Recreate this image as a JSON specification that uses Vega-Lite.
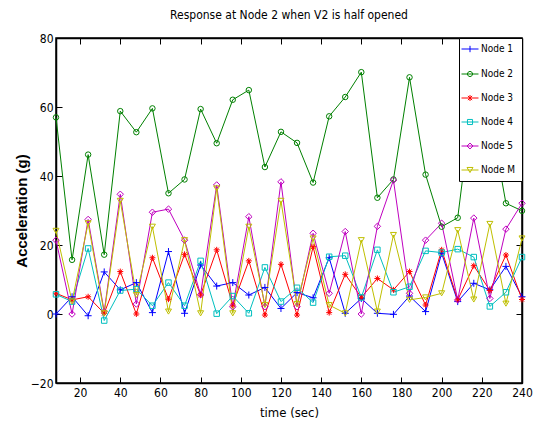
{
  "$schema": "https://vega.github.io/schema/vega-lite/v6.json",
  "width": 466,
  "height": 345,
  "autosize": {"type": "none"},
  "padding": {"left": 56, "top": 38, "right": 16, "bottom": 46},
  "background": "white",
  "title": {"text": "Response at Node 2 when V2 is half opened", "font": "Liberation Sans Narrow, DejaVu Sans Condensed, sans-serif", "fontSize": 12, "fontWeight": "normal", "color": "black", "offset": 10, "anchor": "middle"},
  "config": {
    "view": {"stroke": "black", "strokeWidth": 1.5},
    "axis": {"grid": false, "labelFlush": false, "domainColor": "black", "domainWidth": 1.5, "tickColor": "black", "tickWidth": 1, "labelColor": "black", "labelFont": "Liberation Sans Narrow, DejaVu Sans Condensed, sans-serif", "labelFontSize": 12, "titleColor": "black"}
  },
  "data": {"values": [
    {"t":8,"node":"Node 1","a":0},{"t":16,"node":"Node 1","a":5},{"t":24,"node":"Node 1","a":-0.5},{"t":32,"node":"Node 1","a":12.2},{"t":40,"node":"Node 1","a":7},{"t":48,"node":"Node 1","a":9.1},{"t":56,"node":"Node 1","a":0.4},{"t":64,"node":"Node 1","a":18.1},{"t":72,"node":"Node 1","a":0.2},{"t":80,"node":"Node 1","a":14.2},{"t":88,"node":"Node 1","a":8.1},{"t":96,"node":"Node 1","a":9.1},{"t":104,"node":"Node 1","a":5.5},{"t":112,"node":"Node 1","a":7.7},{"t":120,"node":"Node 1","a":1.6},{"t":128,"node":"Node 1","a":6.2},{"t":136,"node":"Node 1","a":4.7},{"t":144,"node":"Node 1","a":16.3},{"t":152,"node":"Node 1","a":0.2},{"t":160,"node":"Node 1","a":4.5},{"t":168,"node":"Node 1","a":0.2},{"t":176,"node":"Node 1","a":-0.1},{"t":184,"node":"Node 1","a":5.2},{"t":192,"node":"Node 1","a":0.7},{"t":200,"node":"Node 1","a":17.6},{"t":208,"node":"Node 1","a":3.6},{"t":216,"node":"Node 1","a":8.9},{"t":224,"node":"Node 1","a":7},{"t":232,"node":"Node 1","a":13.8},{"t":240,"node":"Node 1","a":5},
    {"t":8,"node":"Node 2","a":57},{"t":16,"node":"Node 2","a":15.7},{"t":24,"node":"Node 2","a":46.2},{"t":32,"node":"Node 2","a":17.2},{"t":40,"node":"Node 2","a":58.8},{"t":48,"node":"Node 2","a":52.7},{"t":56,"node":"Node 2","a":59.6},{"t":64,"node":"Node 2","a":35},{"t":72,"node":"Node 2","a":39},{"t":80,"node":"Node 2","a":59.4},{"t":88,"node":"Node 2","a":49.5},{"t":96,"node":"Node 2","a":62.1},{"t":104,"node":"Node 2","a":64.9},{"t":112,"node":"Node 2","a":42.6},{"t":120,"node":"Node 2","a":52.8},{"t":128,"node":"Node 2","a":49.6},{"t":136,"node":"Node 2","a":38.1},{"t":144,"node":"Node 2","a":57.3},{"t":152,"node":"Node 2","a":62.9},{"t":160,"node":"Node 2","a":70.1},{"t":168,"node":"Node 2","a":33.7},{"t":176,"node":"Node 2","a":39},{"t":184,"node":"Node 2","a":68.6},{"t":192,"node":"Node 2","a":40.4},{"t":200,"node":"Node 2","a":25.3},{"t":208,"node":"Node 2","a":27.9},{"t":216,"node":"Node 2","a":65.1},{"t":224,"node":"Node 2","a":58},{"t":232,"node":"Node 2","a":32.1},{"t":240,"node":"Node 2","a":29.9},
    {"t":8,"node":"Node 3","a":6},{"t":16,"node":"Node 3","a":4.1},{"t":24,"node":"Node 3","a":5},{"t":32,"node":"Node 3","a":0.2},{"t":40,"node":"Node 3","a":12.3},{"t":48,"node":"Node 3","a":0},{"t":56,"node":"Node 3","a":16.3},{"t":64,"node":"Node 3","a":4.3},{"t":72,"node":"Node 3","a":17.3},{"t":80,"node":"Node 3","a":5.5},{"t":88,"node":"Node 3","a":18.6},{"t":96,"node":"Node 3","a":2.6},{"t":104,"node":"Node 3","a":15.4},{"t":112,"node":"Node 3","a":-0.3},{"t":120,"node":"Node 3","a":14.4},{"t":128,"node":"Node 3","a":-0.3},{"t":136,"node":"Node 3","a":19.5},{"t":144,"node":"Node 3","a":0.4},{"t":152,"node":"Node 3","a":11.5},{"t":160,"node":"Node 3","a":4.8},{"t":168,"node":"Node 3","a":10.3},{"t":176,"node":"Node 3","a":7},{"t":184,"node":"Node 3","a":12.3},{"t":192,"node":"Node 3","a":2.6},{"t":200,"node":"Node 3","a":18.6},{"t":208,"node":"Node 3","a":4.1},{"t":216,"node":"Node 3","a":14},{"t":224,"node":"Node 3","a":6.8},{"t":232,"node":"Node 3","a":17.1},{"t":240,"node":"Node 3","a":4.2},
    {"t":8,"node":"Node 4","a":5.7},{"t":16,"node":"Node 4","a":3.6},{"t":24,"node":"Node 4","a":19},{"t":32,"node":"Node 4","a":-1.9},{"t":40,"node":"Node 4","a":6.8},{"t":48,"node":"Node 4","a":7.2},{"t":56,"node":"Node 4","a":2.4},{"t":64,"node":"Node 4","a":9.1},{"t":72,"node":"Node 4","a":2.4},{"t":80,"node":"Node 4","a":15.4},{"t":88,"node":"Node 4","a":0.1},{"t":96,"node":"Node 4","a":5.2},{"t":104,"node":"Node 4","a":0.2},{"t":112,"node":"Node 4","a":13.5},{"t":120,"node":"Node 4","a":3.6},{"t":128,"node":"Node 4","a":7.6},{"t":136,"node":"Node 4","a":3.3},{"t":144,"node":"Node 4","a":16.6},{"t":152,"node":"Node 4","a":16.9},{"t":160,"node":"Node 4","a":4.8},{"t":168,"node":"Node 4","a":18.6},{"t":176,"node":"Node 4","a":6.3},{"t":184,"node":"Node 4","a":7.9},{"t":192,"node":"Node 4","a":18.3},{"t":200,"node":"Node 4","a":17.8},{"t":208,"node":"Node 4","a":18.8},{"t":216,"node":"Node 4","a":16.5},{"t":224,"node":"Node 4","a":2.2},{"t":232,"node":"Node 4","a":6.3},{"t":240,"node":"Node 4","a":16.5},
    {"t":8,"node":"Node 5","a":21.4},{"t":16,"node":"Node 5","a":0},{"t":24,"node":"Node 5","a":27.4},{"t":32,"node":"Node 5","a":0.7},{"t":40,"node":"Node 5","a":34.7},{"t":48,"node":"Node 5","a":2.9},{"t":56,"node":"Node 5","a":29.5},{"t":64,"node":"Node 5","a":30.4},{"t":72,"node":"Node 5","a":21.4},{"t":80,"node":"Node 5","a":5.6},{"t":88,"node":"Node 5","a":37.4},{"t":96,"node":"Node 5","a":2.1},{"t":104,"node":"Node 5","a":28.2},{"t":112,"node":"Node 5","a":2.1},{"t":120,"node":"Node 5","a":38.3},{"t":128,"node":"Node 5","a":2.1},{"t":136,"node":"Node 5","a":23.4},{"t":144,"node":"Node 5","a":6},{"t":152,"node":"Node 5","a":23.9},{"t":160,"node":"Node 5","a":0},{"t":168,"node":"Node 5","a":25.4},{"t":176,"node":"Node 5","a":38.8},{"t":184,"node":"Node 5","a":6},{"t":192,"node":"Node 5","a":21.4},{"t":200,"node":"Node 5","a":26.3},{"t":208,"node":"Node 5","a":4.1},{"t":216,"node":"Node 5","a":27.8},{"t":224,"node":"Node 5","a":4.5},{"t":232,"node":"Node 5","a":24.6},{"t":240,"node":"Node 5","a":32.1},
    {"t":8,"node":"Node M","a":24.1},{"t":16,"node":"Node M","a":3.6},{"t":24,"node":"Node M","a":26.3},{"t":32,"node":"Node M","a":0.2},{"t":40,"node":"Node M","a":32.8},{"t":48,"node":"Node M","a":5.5},{"t":56,"node":"Node M","a":25.3},{"t":64,"node":"Node M","a":0.7},{"t":72,"node":"Node M","a":21.4},{"t":80,"node":"Node M","a":0.2},{"t":88,"node":"Node M","a":36.4},{"t":96,"node":"Node M","a":0.2},{"t":104,"node":"Node M","a":25.3},{"t":112,"node":"Node M","a":2.6},{"t":120,"node":"Node M","a":32.8},{"t":128,"node":"Node M","a":2.9},{"t":136,"node":"Node M","a":21.9},{"t":144,"node":"Node M","a":2.6},{"t":152,"node":"Node M","a":0.2},{"t":160,"node":"Node M","a":21.4},{"t":168,"node":"Node M","a":0.7},{"t":176,"node":"Node M","a":22.9},{"t":184,"node":"Node M","a":4.1},{"t":192,"node":"Node M","a":4.8},{"t":200,"node":"Node M","a":6},{"t":208,"node":"Node M","a":24.3},{"t":216,"node":"Node M","a":4.2},{"t":224,"node":"Node M","a":26.1},{"t":232,"node":"Node M","a":3},{"t":240,"node":"Node M","a":21.9}
  ]},
  "resolve": {"axis": {"x": "independent", "y": "independent"}},
  "layer": [
    {
      "mark": {"type": "line", "strokeWidth": 1},
      "encoding": {
        "x": {"field": "t", "type": "quantitative", "scale": {"domain": [8, 240], "nice": false, "zero": false},
              "axis": {"orient": "bottom", "values": [20,40,60,80,100,120,140,160,180,200,220,240], "tickSize": -6, "labelPadding": 10, "title": "time (sec)", "titleFont": "Liberation Sans Narrow, DejaVu Sans Condensed, sans-serif", "titleFontSize": 13, "titleFontWeight": "normal", "titlePadding": 8}},
        "y": {"field": "a", "type": "quantitative", "scale": {"domain": [-20, 80], "nice": false, "zero": false},
              "axis": {"orient": "left", "values": [-20,0,20,40,60,80], "tickSize": -6, "labelPadding": 9, "title": "Acceleration (g)", "titleFont": "Liberation Sans, Arial, sans-serif", "titleFontSize": 15, "titleFontWeight": "bold", "titlePadding": 1}},
        "stroke": {"field": "node", "type": "nominal", "scale": {"range": ["#0000FF","#008000","#FF0000","#00BFBF","#BF00BF","#BFBF00"]}, "legend": null},
        "order": {"field": "t", "type": "quantitative"}
      }
    },
    {
      "transform": [{"filter": {"field": "node", "equal": "Node 1"}}],
      "mark": {"type": "point", "shape": "M-1,0H1M0,-1V1", "filled": false, "fill": "transparent", "size": 49, "strokeWidth": 1, "opacity": 1},
      "encoding": {"x": {"field": "t", "type": "quantitative", "axis": null}, "y": {"field": "a", "type": "quantitative", "axis": null}, "stroke": {"field": "node", "type": "nominal", "legend": null}}
    },
    {
      "transform": [{"filter": {"field": "node", "equal": "Node 2"}}],
      "mark": {"type": "point", "shape": "circle", "filled": false, "fill": "transparent", "size": 30, "strokeWidth": 1, "opacity": 1},
      "encoding": {"x": {"field": "t", "type": "quantitative", "axis": null}, "y": {"field": "a", "type": "quantitative", "axis": null}, "stroke": {"field": "node", "type": "nominal", "legend": null}}
    },
    {
      "transform": [{"filter": {"field": "node", "equal": "Node 3"}}],
      "mark": {"type": "point", "shape": "M-1,0H1M0,-1V1M-0.7,-0.7L0.7,0.7M-0.7,0.7L0.7,-0.7", "filled": false, "fill": "transparent", "size": 36, "strokeWidth": 1, "opacity": 1},
      "encoding": {"x": {"field": "t", "type": "quantitative", "axis": null}, "y": {"field": "a", "type": "quantitative", "axis": null}, "stroke": {"field": "node", "type": "nominal", "legend": null}}
    },
    {
      "transform": [{"filter": {"field": "node", "equal": "Node 4"}}],
      "mark": {"type": "point", "shape": "square", "filled": false, "fill": "transparent", "size": 30, "strokeWidth": 1, "opacity": 1},
      "encoding": {"x": {"field": "t", "type": "quantitative", "axis": null}, "y": {"field": "a", "type": "quantitative", "axis": null}, "stroke": {"field": "node", "type": "nominal", "legend": null}}
    },
    {
      "transform": [{"filter": {"field": "node", "equal": "Node 5"}}],
      "mark": {"type": "point", "shape": "diamond", "filled": false, "fill": "transparent", "size": 42, "strokeWidth": 1, "opacity": 1},
      "encoding": {"x": {"field": "t", "type": "quantitative", "axis": null}, "y": {"field": "a", "type": "quantitative", "axis": null}, "stroke": {"field": "node", "type": "nominal", "legend": null}}
    },
    {
      "transform": [{"filter": {"field": "node", "equal": "Node M"}}],
      "mark": {"type": "point", "shape": "M-1,-0.85H1L0,0.85Z", "filled": false, "fill": "transparent", "size": 36, "strokeWidth": 1, "opacity": 1},
      "encoding": {"x": {"field": "t", "type": "quantitative", "axis": null}, "y": {"field": "a", "type": "quantitative", "axis": null}, "stroke": {"field": "node", "type": "nominal", "legend": null}}
    },
    {
      "mark": {"type": "point", "filled": false, "strokeWidth": 1, "opacity": 0},
      "encoding": {
        "x": {"field": "t", "type": "quantitative", "axis": {"orient": "top", "values": [20,40,60,80,100,120,140,160,180,200,220,240], "tickSize": -6, "labels": false, "title": null}},
        "y": {"field": "a", "type": "quantitative", "axis": {"orient": "right", "values": [-20,0,20,40,60,80], "tickSize": -6, "labels": false, "title": null}},
        "color": {"field": "node", "type": "nominal",
          "scale": {"domain": ["Node 1","Node 2","Node 3","Node 4","Node 5","Node M"], "range": ["#0000FF","#008000","#FF0000","#00BFBF","#BF00BF","#BFBF00"]},
          "legend": {"title": null, "orient": "top-right", "offset": 0, "padding": 6, "strokeColor": "black", "fillColor": "white", "symbolSize": 72, "symbolStrokeWidth": 1, "symbolOpacity": 1, "symbolOffset": 0, "labelOffset": 6, "rowPadding": 14, "labelFont": "Liberation Sans Narrow, DejaVu Sans Condensed, sans-serif", "labelFontSize": 10, "labelColor": "black", "cornerRadius": 0}},
        "shape": {"field": "node", "type": "nominal",
          "scale": {"domain": ["Node 1","Node 2","Node 3","Node 4","Node 5","Node M"], "range": [
            "M-2,0H2M0,-0.75V0.75",
            "M-2,0H2M0.6,0A0.6,0.6,0,1,1,-0.6,0A0.6,0.6,0,1,1,0.6,0",
            "M-2,0H2M0,-0.7V0.7M-0.5,-0.5L0.5,0.5M-0.5,0.5L0.5,-0.5",
            "M-2,0H2M-0.6,-0.6H0.6V0.6H-0.6Z",
            "M-2,0H2M-0.7,0L0,-0.7L0.7,0L0,0.7Z",
            "M-2,0H2M-0.7,-0.6H0.7L0,0.6Z"]},
          "legend": {"title": null}}
      }
    }
  ]
}
